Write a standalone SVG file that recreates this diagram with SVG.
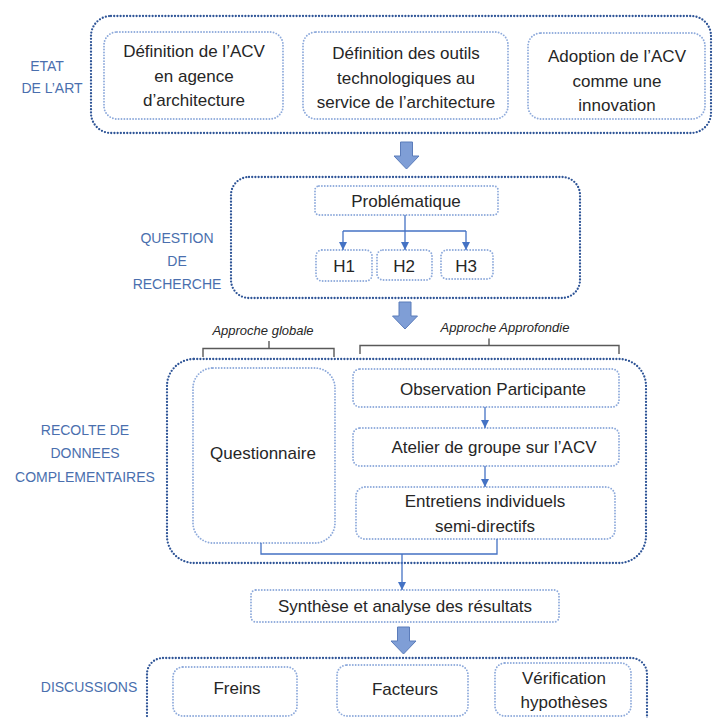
<svg xmlns="http://www.w3.org/2000/svg" width="713" height="718" viewBox="0 0 713 718">
<defs>
<style>
.outer{fill:none;stroke:#2F5597;stroke-width:2.3;stroke-dasharray:0 3.2;stroke-linecap:round}
.inner{fill:none;stroke:#8EAADB;stroke-width:1.9;stroke-dasharray:0 2.9;stroke-linecap:round}
.t{font-family:"Liberation Sans",Arial,sans-serif;font-size:17px;fill:#262626;text-anchor:middle}
.lbl{font-family:"Liberation Sans",Arial,sans-serif;font-size:14px;fill:#4A6FAE;text-anchor:middle}
.it{font-family:"Liberation Sans",Arial,sans-serif;font-size:13px;font-style:italic;fill:#262626;text-anchor:middle}
.con{fill:none;stroke:#4472C4;stroke-width:1.3}
.big{fill:#7F9ED6;stroke:#5B7CBA;stroke-width:1}
.brace{fill:none;stroke:#595959;stroke-width:1.4}
</style>
<marker id="ah" viewBox="0 0 10 10" refX="10" refY="5" markerWidth="8" markerHeight="8" markerUnits="userSpaceOnUse" orient="auto">
<path d="M0,0 L10,5 L0,10 Z" fill="#4472C4"/>
</marker>
<path id="bigarrow" d="M-6,0 H6 V14 H12.5 L0,27 L-12.5,14 H-6 Z"/>
</defs>

<g id="etat-art">
<rect class="outer" x="91" y="16" width="620" height="117" rx="20"/>
<text class="lbl" x="47" y="71">ETAT</text>
<text class="lbl" x="52" y="93">DE L’ART</text>
</g>
<g id="n-def-acv">
<rect class="inner" x="104" y="32" width="179" height="87" rx="13"/>
<text class="t" x="194" y="57">Définition de l’ACV</text>
<text class="t" x="194" y="82">en agence</text>
<text class="t" x="194" y="106">d’architecture</text>
</g>
<g id="n-def-outils">
<rect class="inner" x="303" y="32" width="205" height="87" rx="13"/>
<text class="t" x="406" y="59">Définition des outils</text>
<text class="t" x="406" y="84">technologiques au</text>
<text class="t" x="406" y="108">service de l’architecture</text>
</g>
<g id="n-adoption">
<rect class="inner" x="528" y="33" width="177" height="86" rx="13"/>
<text class="t" x="617" y="62">Adoption de l’ACV</text>
<text class="t" x="617" y="87">comme une</text>
<text class="t" x="617" y="111">innovation</text>
</g>

<g id="question">
<rect class="outer" x="231" y="177" width="349" height="121" rx="18"/>
<text class="lbl" x="177" y="243">QUESTION</text>
<text class="lbl" x="177" y="266">DE</text>
<text class="lbl" x="177" y="289">RECHERCHE</text>
</g>
<g id="n-problematique">
<rect class="inner" x="315" y="186" width="183" height="29" rx="4"/>
<text class="t" x="406" y="207">Problématique</text>
</g>
<g id="n-h1">
<rect class="inner" x="316" y="250" width="56" height="31" rx="6"/>
<text class="t" x="344" y="272">H1</text>
</g>
<g id="n-h2">
<rect class="inner" x="377" y="250" width="55" height="30" rx="6"/>
<text class="t" x="404" y="272">H2</text>
</g>
<g id="n-h3">
<rect class="inner" x="441" y="250" width="52" height="29" rx="6"/>
<text class="t" x="466" y="272">H3</text>
</g>

<g id="braces">
<text class="it" x="263" y="335">Approche globale</text>
<path class="brace" d="M203,357 V348.5 H269 V341 M269,348.5 H334 V357"/>
<text class="it" x="505" y="332">Approche Approfondie</text>
<path class="brace" d="M360,354 V345.5 H489 V338.5 M489,345.5 H619 V354"/>
</g>

<g id="recolte">
<rect class="outer" x="167" y="359" width="479" height="204" rx="27"/>
<text class="lbl" x="85" y="435">RECOLTE DE</text>
<text class="lbl" x="85" y="458">DONNEES</text>
<text class="lbl" x="85" y="482">COMPLEMENTAIRES</text>
</g>
<g id="n-questionnaire">
<rect class="inner" x="193" y="368" width="142" height="175" rx="20"/>
<text class="t" x="263" y="459">Questionnaire</text>
</g>
<g id="n-observation">
<rect class="inner" x="353" y="369" width="266" height="38" rx="7"/>
<text class="t" x="493" y="395">Observation Participante</text>
</g>
<g id="n-atelier">
<rect class="inner" x="353" y="428" width="266" height="38" rx="7"/>
<text class="t" x="494" y="453">Atelier de groupe sur l’ACV</text>
</g>
<g id="n-entretiens">
<rect class="inner" x="356" y="487" width="259" height="52" rx="9"/>
<text class="t" x="485" y="507">Entretiens individuels</text>
<text class="t" x="485" y="532">semi-directifs</text>
</g>

<g id="n-synthese">
<rect class="inner" x="251" y="590" width="308" height="32" rx="5"/>
<text class="t" x="405" y="612">Synthèse et analyse des résultats</text>
</g>

<g id="discussions">
<rect class="outer" x="147" y="658" width="500" height="90" rx="16"/>
<text class="lbl" x="89" y="692">DISCUSSIONS</text>
</g>
<g id="n-freins">
<rect class="inner" x="173" y="667" width="124" height="49" rx="10"/>
<text class="t" x="237" y="694">Freins</text>
</g>
<g id="n-facteurs">
<rect class="inner" x="337" y="665" width="131" height="51" rx="10"/>
<text class="t" x="405" y="695">Facteurs</text>
</g>
<g id="n-verification">
<rect class="inner" x="495" y="663" width="136" height="53" rx="10"/>
<text class="t" x="564" y="684">Vérification</text>
<text class="t" x="564" y="708">hypothèses</text>
</g>

<g id="connectors">
<use href="#bigarrow" class="big" x="406.5" y="142"/>
<use href="#bigarrow" class="big" x="405" y="302"/>
<use href="#bigarrow" class="big" x="403.5" y="627"/>
<path class="con" d="M405,215 V231"/>
<path class="con" d="M343,231 H466"/>
<path class="con" d="M343,231 V250" marker-end="url(#ah)"/>
<path class="con" d="M405,231 V250" marker-end="url(#ah)"/>
<path class="con" d="M466,231 V250" marker-end="url(#ah)"/>
<path class="con" d="M485,407 V428" marker-end="url(#ah)"/>
<path class="con" d="M485,466 V487" marker-end="url(#ah)"/>
<path class="con" d="M261,543 V554 H497 V539"/>
<path class="con" d="M402,554 V590" marker-end="url(#ah)"/>
</g>
</svg>
